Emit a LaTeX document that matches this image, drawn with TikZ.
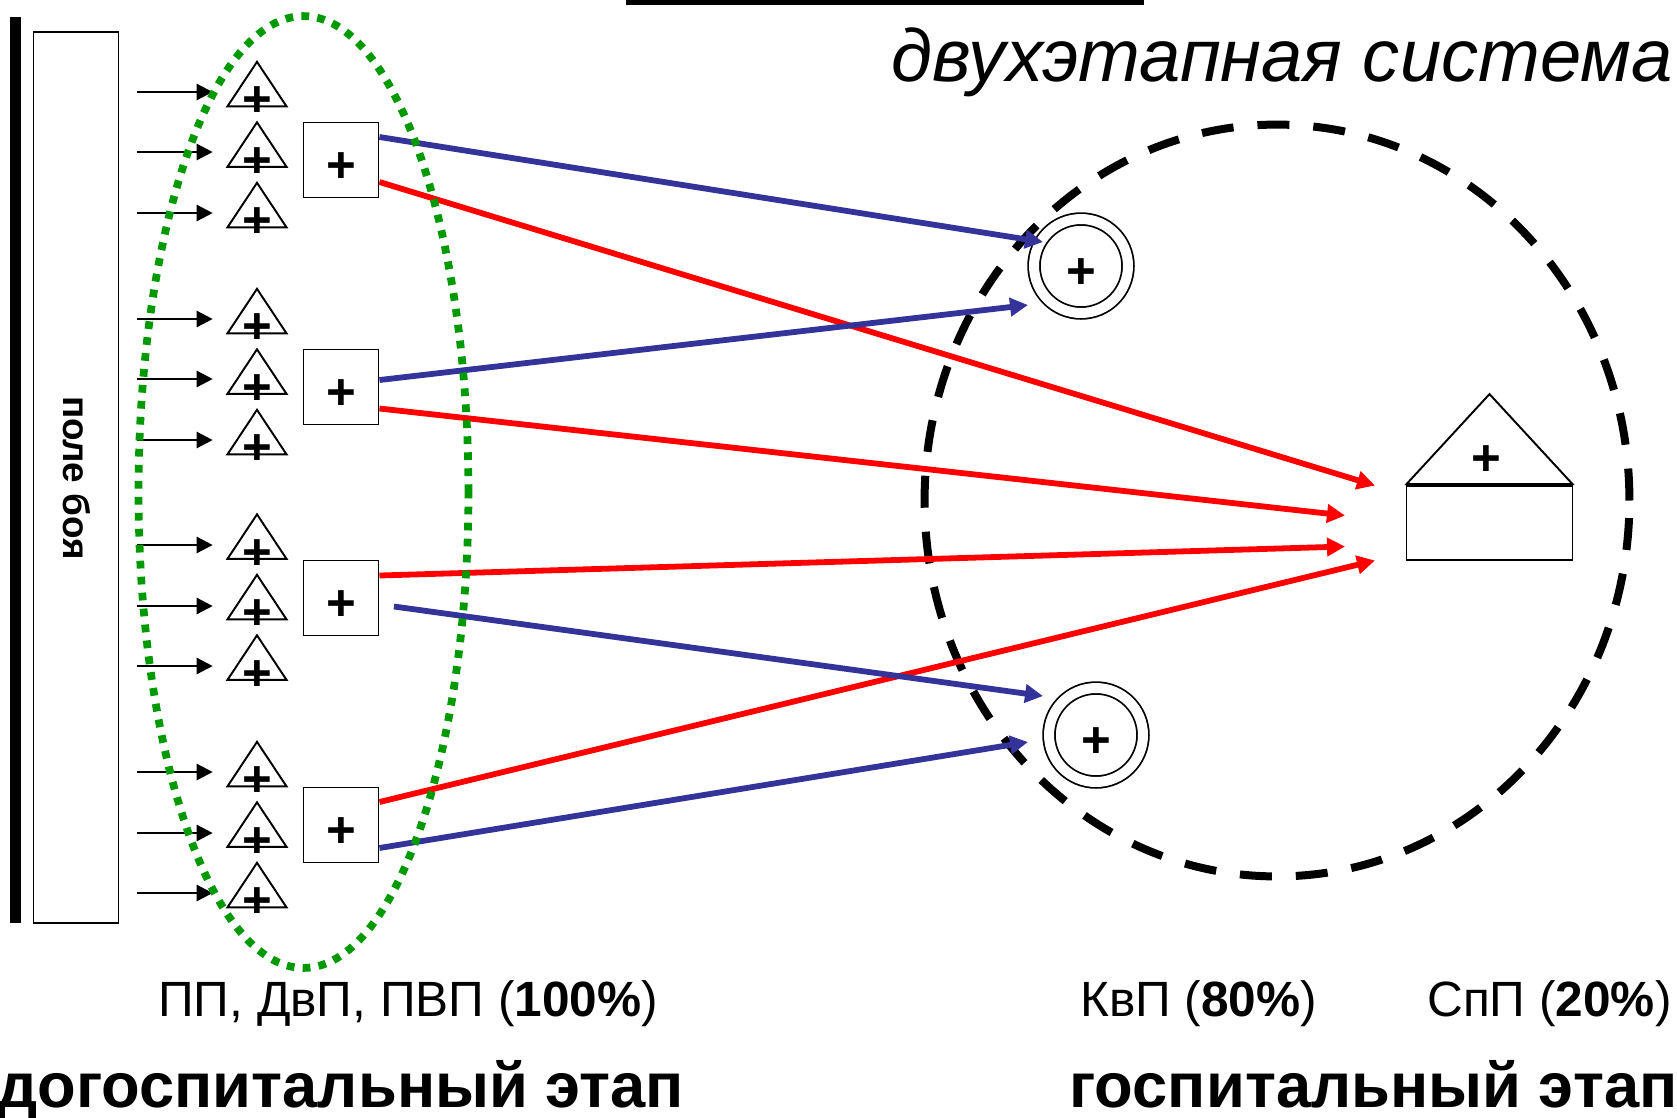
\documentclass[tikz,border=0pt]{standalone}
\usepackage{fontspec}
\setmainfont{Liberation Sans}
\usetikzlibrary{positioning,arrows.meta,shapes.geometric}
\definecolor{bluearrow}{HTML}{333399}
\definecolor{greendot}{HTML}{009900}
\tikzset{
  tri node/.style={isosceles triangle, isosceles triangle stretches, shape border rotate=90, draw, line width=1.1pt, inner sep=0pt, minimum width=1.18cm, minimum height=.89cm,
    label={[label distance=0pt, yshift=-.23cm, font=\fontsize{29}{29}\selectfont\bfseries]center:+}},
  box node/.style={rectangle, draw, line width=1.1pt, inner sep=0pt},
  post node/.style={box node, minimum width=1.5cm, minimum height=1.5cm, text height=26pt, text depth=0pt, font=\fontsize{29}{29}\selectfont\bfseries},
  hosp node/.style={circle, draw, double, double distance=.2cm, line width=1pt, inner sep=0pt, minimum size=1.88cm, text height=26pt, text depth=0pt, font=\fontsize{29}{29}\selectfont\bfseries},
  feed/.style={-{Triangle[length=.32cm,width=.32cm]}, line width=1.4pt, shorten >=.26cm},
  blue way/.style={-{Triangle[length=.36cm,width=.36cm]}, bluearrow, line width=3.3pt},
  red way/.style={-{Triangle[length=.36cm,width=.36cm]}, red, line width=3.3pt},
  small text/.style={anchor=base west, inner sep=0pt, font=\fontsize{28.2}{29}\selectfont},
  big text/.style={anchor=base west, inner sep=0pt, font=\fontsize{36}{36}\selectfont\bfseries}
}
\begin{document}
\begin{tikzpicture}[x=.02cm, y=-.02cm, node distance=1.21cm]
  \useasboundingbox (0,0) rectangle (1677,1117);

  % front line and field
  \fill (10,17) rectangle (21,923);
  \fill (626,-2) rectangle (1144,5);
  \node[box node, minimum width=1.7cm, minimum height=17.84cm] (field) at (76,477.5) {};
  \node[rotate=-90, font=\fontsize{21}{21}\selectfont\bfseries] (fieldname) at (77,478) {поле боя};

  % hospital zone
  \node[ellipse, draw, dash pattern=on .64cm off .48cm, line width=.16cm, minimum width=14.1cm, minimum height=15.04cm, inner sep=0pt] (zone) at (1277,500.5) {};

  % first stage
  \node[tri node] (tri1) at (257,90.5) {};
  \node[tri node] (tri2) [below of=tri1] {};
  \node[tri node] (tri3) [below of=tri2] {};
  \node[tri node] (tri4) at (257,317.5) {};
  \node[tri node] (tri5) [below of=tri4] {};
  \node[tri node] (tri6) [below of=tri5] {};
  \node[tri node] (tri7) at (257,543) {};
  \node[tri node] (tri8) [below of=tri7] {};
  \node[tri node] (tri9) [below of=tri8] {};
  \node[tri node] (tri10) at (257,770.5) {};
  \node[tri node] (tri11) [below of=tri10] {};
  \node[tri node] (tri12) [below of=tri11] {};

  \node[post node] (post1) at (341,160) {+};
  \node[post node] (post2) at (341,387) {+};
  \node[post node] (post3) at (341,598) {+};
  \node[post node] (post4) at (341,825) {+};

  % second stage
  \node[hosp node] (hosp1) at (1081,266) {+};
  \node[hosp node] (hosp2) at (1096,735) {+};
  \node[box node, minimum width=3.32cm, minimum height=1.48cm] (ward) at (1489.5,523) {};
  \node[isosceles triangle, isosceles triangle stretches, shape border rotate=90, draw, line width=1.1pt, inner sep=0pt, minimum width=3.32cm, minimum height=1.8cm, anchor=south] (roof) at (ward.north) {};
  \node[font=\fontsize{29}{29}\selectfont\bfseries] (roofplus) at (1486,461) {+};

  % incoming arrows
  \coordinate (in1) at (137,92);
  \coordinate (in2) at (137,152);
  \coordinate (in3) at (137,213);
  \coordinate (in4) at (137,319);
  \coordinate (in5) at (137,379);
  \coordinate (in6) at (137,440);
  \coordinate (in7) at (137,545);
  \coordinate (in8) at (137,606);
  \coordinate (in9) at (137,666);
  \coordinate (in10) at (137,772);
  \coordinate (in11) at (137,833);
  \coordinate (in12) at (137,893);
  \path[feed]
    (in1) edge (in1 -| tri1.left corner)
    (in2) edge (in2 -| tri2.left corner)
    (in3) edge (in3 -| tri3.left corner)
    (in4) edge (in4 -| tri4.left corner)
    (in5) edge (in5 -| tri5.left corner)
    (in6) edge (in6 -| tri6.left corner)
    (in7) edge (in7 -| tri7.left corner)
    (in8) edge (in8 -| tri8.left corner)
    (in9) edge (in9 -| tri9.left corner)
    (in10) edge (in10 -| tri10.left corner)
    (in11) edge (in11 -| tri11.left corner)
    (in12) edge (in12 -| tri12.left corner);

  % arrow ends
  \coordinate (end1) at (1043,242);
  \coordinate (end2) at (1028,305);
  \coordinate (end3) at (1043,696);
  \coordinate (end4) at (1028,742);
  \coordinate (end5) at (1375,485.5);
  \coordinate (end6) at (1345,515.5);
  \coordinate (end7) at (1345,546.5);
  \coordinate (end8) at (1375,560.5);

  \path[red way]
    ([yshift=-.44cm]post1.east) edge (end5)
    ([yshift=-.43cm]post2.east) edge (end6)
    ([yshift=.45cm]post3.east) edge (end7)
    ([yshift=.46cm]post4.east) edge (end8);
  \path[blue way]
    ([yshift=.46cm]post1.east) edge (end1)
    ([yshift=.14cm]post2.east) edge (end2)
    ([xshift=.29cm,yshift=-.17cm]post3.east) edge (end3)
    ([yshift=-.46cm]post4.east) edge (end4);

  % first stage zone
  \node[ellipse, draw=greendot, dash pattern=on .155cm off .165cm, line width=.155cm, minimum width=6.6cm, minimum height=19.04cm, inner sep=0pt] (stage) at (303.5,492) {};

  % captions
  \node[anchor=base east, inner sep=0pt, font=\fontsize{42.2}{44}\selectfont\itshape] (title) at (1673,81) {двухэтапная система};
  \node[small text] (cap1) at (158,1016) {ПП, ДвП, ПВП (\textbf{100\%})};
  \node[small text] (cap2) at (1080,1016) {КвП (\textbf{80\%})};
  \node[small text] (cap3) at (1427,1016) {СпП (\textbf{20\%})};
  \node[big text] (stage1) at (-3,1107) {догоспитальный этап};
  \node[big text] (stage2) at (1069,1107) {госпитальный этап};
\end{tikzpicture}
\end{document}
